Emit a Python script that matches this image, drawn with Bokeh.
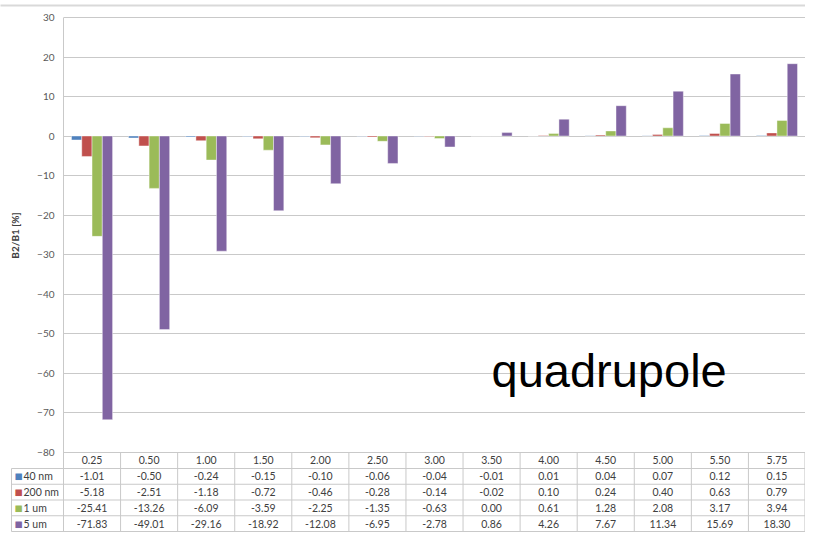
import math
from bokeh.plotting import figure
from bokeh.models import Range1d, FixedTicker, ColumnDataSource
from bokeh.core.properties import value
from bokeh.embed import file_html
from bokeh.resources import INLINE

# ---- data ----
categories = ["0.25", "0.50", "1.00", "1.50", "2.00", "2.50", "3.00",
              "3.50", "4.00", "4.50", "5.00", "5.50", "5.75"]
series_names = ["40 nm", "200 nm", "1 um", "5 um"]
s_40nm = [-1.01, -0.50, -0.24, -0.15, -0.10, -0.06, -0.04, -0.01, 0.01, 0.04, 0.07, 0.12, 0.15]
s_200nm = [-5.18, -2.51, -1.18, -0.72, -0.46, -0.28, -0.14, -0.02, 0.10, 0.24, 0.40, 0.63, 0.79]
s_1um = [-25.41, -13.26, -6.09, -3.59, -2.25, -1.35, -0.63, 0.00, 0.61, 1.28, 2.08, 3.17, 3.94]
s_5um = [-71.83, -49.01, -29.16, -18.92, -12.08, -6.95, -2.78, 0.86, 4.26, 7.67, 11.34, 15.69, 18.30]
y_ticks = [-80, -70, -60, -50, -40, -30, -20, -10, 0, 10, 20, 30]

series = [s_40nm, s_200nm, s_1um, s_5um]
colors = ["#4F81BD", "#C0504D", "#9BBB59", "#8064A2"]
offsets = [-0.27, -0.09, 0.09, 0.27]
bar_w = 0.18

FONT = value("Lato")
GRID = "#c9c9c9"
TXT = "#404040"

n = len(categories)
W, H = 805, 533
left = 63
u = 3.95                      # pixels per y unit
top_px = 17                   # pixel position of y=30
ppx = (W - left) / 13.0       # pixels per column
y_top = 30 + top_px / u
y_bot = 30 - (H - top_px) / u

ymin_tab = -80.0
hdr_h = 16.5 / u
row_h = 15.75 / u
tab_bottom = ymin_tab - hdr_h - row_h * 4
left_col = -52 / ppx

p = figure(width=W, height=H, output_backend="svg", toolbar_location=None,
           x_range=Range1d(0, 13.0), y_range=Range1d(y_bot, y_top),
           x_axis_location=None, min_border_left=left, min_border_right=0,
           min_border_top=0, min_border_bottom=0)
p.outline_line_color = None
p.background_fill_color = "white"
p.border_fill_color = "white"
p.xgrid.visible = False
p.ygrid.ticker = FixedTicker(ticks=y_ticks)
p.ygrid.grid_line_color = GRID
p.yaxis.ticker = FixedTicker(ticks=y_ticks)
p.yaxis.bounds = (tab_bottom, 30)
p.yaxis.axis_line_color = GRID
p.yaxis.major_tick_out = 0
p.yaxis.major_tick_in = 0
p.yaxis.minor_tick_out = 0
p.yaxis.minor_tick_in = 0
p.yaxis.major_label_text_font = "Lato"
p.yaxis.major_label_text_font_size = "10px"
p.yaxis.major_label_text_color = "#595959"
p.yaxis.major_label_standoff = 9

# bars
for vals, col, off in zip(series, colors, offsets):
    src = ColumnDataSource(dict(x=[i + 0.5 + off for i in range(n)], top=vals))
    p.vbar(x="x", top="top", bottom=0, width=bar_w, source=src,
           fill_color=col, line_color="white", line_alpha=0.6, line_width=0.7)

# big label
p.text(x=[(492 - 64) / ppx], y=[30 - (369.7 - top_px) / u], text=["quadrupole"],
       text_font=value("Liberation Sans"), text_font_size="47px", text_color="black",
       text_baseline="middle", text_align="left")

# table: vertical lines
vx = list(range(0, n)) + [12.99]
p.segment(x0=vx, y0=[ymin_tab] * len(vx), x1=vx, y1=[tab_bottom] * len(vx),
          line_color=GRID, line_width=1)
# horizontal lines (incl. label column)
hy = [ymin_tab - hdr_h - row_h * k for k in range(5)]
p.segment(x0=[left_col] * 5, y0=hy, x1=[13.0] * 5, y1=hy, line_color=GRID,
          line_width=1, level="overlay")
p.segment(x0=[left_col], y0=[hy[0]], x1=[left_col], y1=[tab_bottom], line_color=GRID,
          line_width=1, level="overlay")
# top separator
p.segment(x0=[-left / ppx], y0=[30 - (5 - top_px) / u], x1=[13.1], y1=[30 - (5 - top_px) / u],
          line_color="#d9d9d9", line_width=2, level="overlay")

# header row
p.text(x=[i + 0.5 for i in range(n)], y=[ymin_tab - hdr_h / 2] * n, text=categories,
       text_font=FONT, text_font_size="10.5px", text_color=TXT,
       text_align="center", text_baseline="middle")
# data rows
for k, (name, vals, col) in enumerate(zip(series_names, series, colors)):
    yc = ymin_tab - hdr_h - row_h * k - row_h / 2
    p.text(x=[i + 0.5 for i in range(n)], y=[yc] * n, text=["%.2f" % v for v in vals],
           text_font=FONT, text_font_size="10.5px", text_color=TXT,
           text_align="center", text_baseline="middle")
    p.text(x=[-49.0 / ppx], y=[yc], text=["\u25a0"], text_font=value("DejaVu Sans"),
           text_font_size="8.5px", text_color=col, text_align="left",
           text_baseline="middle", level="overlay")
    p.text(x=[-40.0 / ppx], y=[yc], text=[name], text_font=FONT, text_font_size="10.5px",
           text_color=TXT, text_align="left", text_baseline="middle", level="overlay")

# y-axis title
p.text(x=[-49 / ppx], y=[30 - (235 - top_px) / u], text=["B2/B1 [%]"], angle=math.pi / 2,
       text_font=FONT, text_font_size="10px", text_font_style="bold", text_color="#404040",
       text_align="center", text_baseline="middle", level="overlay")

open("out.html", "w").write(file_html(p, INLINE))
